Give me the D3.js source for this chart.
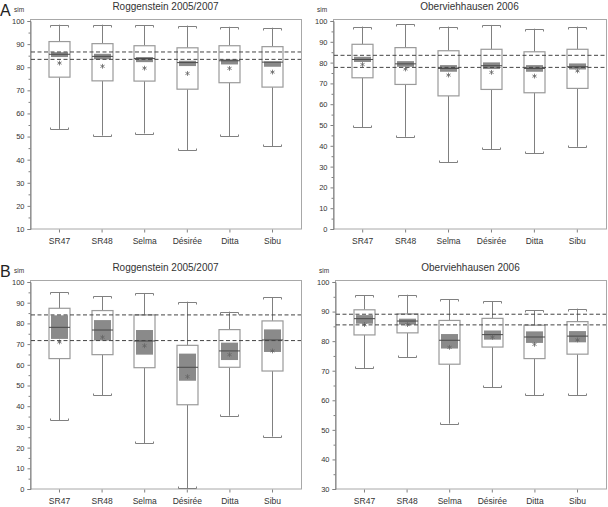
<!DOCTYPE html>
<html><head><meta charset="utf-8">
<script src="https://cdn.jsdelivr.net/npm/d3@7"></script>
<style>
body{margin:0;background:#fff;}
svg{display:block;font-family:"Liberation Sans",Arial,sans-serif;}
</style></head>
<body><svg id="c" width="608" height="507"></svg>
<script>
const categories = ["SR47","SR48","Selma","Désirée","Ditta","Sibu"];

// Panel A – Roggenstein 2005/2007
const aRogWhiskerHigh = [98.4, 98.4, 98.1, 98.0, 97.5, 97.1];
const aRogQ3          = [91.1, 90.2, 89.3, 88.4, 89.3, 88.9];
const aRogMedian      = [85.6, 84.7, 83.8, 82.0, 82.8, 82.2];
const aRogCiHigh      = [86.5, 85.8, 84.4, 82.8, 83.4, 82.5];
const aRogCiLow       = [84.4, 83.4, 82.2, 80.5, 81.2, 80.2];
const aRogMean        = [81.8, 80.4, 79.6, 77.3, 79.5, 77.9];
const aRogQ1          = [75.7, 74.1, 74.0, 70.5, 73.3, 71.4];
const aRogWhiskerLow  = [53.3, 50.4, 51.3, 44.0, 50.2, 45.8];
const aRogRefLines    = [86.6, 83.4];

// Panel A – Oberviehhausen 2006
const aObeWhiskerHigh = [97.3, 98.4, 97.3, 98.1, 96.3, 97.3];
const aObeQ3          = [88.8, 87.2, 85.7, 86.4, 85.2, 86.4];
const aObeMedian      = [81.5, 79.4, 77.2, 78.5, 77.2, 78.0];
const aObeCiHigh      = [82.8, 80.7, 78.8, 80.1, 78.8, 79.6];
const aObeCiLow       = [80.3, 78.0, 75.6, 76.9, 75.6, 76.7];
const aObeMean        = [79.1, 76.9, 74.0, 75.3, 73.5, 76.0];
const aObeQ1          = [72.7, 69.5, 64.0, 67.1, 65.5, 67.6];
const aObeWhiskerLow  = [49.0, 44.3, 32.1, 38.4, 36.3, 39.5];
const aObeRefLines    = [83.5, 77.7];

// Panel B – Roggenstein 2005/2007
const bRogWhiskerHigh = [95.0, 93.1, 94.7, 90.5, 85.7, 92.6];
const bRogQ3          = [87.3, 86.2, 84.1, 69.4, 77.0, 81.2];
const bRogMedian      = [78.1, 76.8, 71.5, 58.8, 66.7, 72.0];
const bRogCiHigh      = [83.9, 81.6, 76.8, 65.4, 70.7, 77.1];
const bRogCiLow       = [72.5, 71.7, 64.9, 52.3, 62.3, 66.2];
const bRogMean        = [71.0, 73.3, 69.2, 54.3, 64.9, 66.7];
const bRogQ1          = [63.0, 64.9, 58.6, 40.7, 58.8, 57.0];
const bRogWhiskerLow  = [33.3, 45.2, 22.2, 0.3, 35.4, 25.3];
const bRogRefLines    = [84.1, 71.7];

// Panel B – Oberviehhausen 2006
const bObeWhiskerHigh = [95.5, 95.7, 94.2, 93.5, 90.5, 91.0];
const bObeQ3          = [90.6, 89.2, 87.0, 87.7, 85.4, 86.6];
const bObeMedian      = [87.6, 86.8, 80.3, 82.2, 81.4, 81.7];
const bObeCiHigh      = [88.8, 87.6, 82.4, 83.6, 83.3, 83.4];
const bObeCiLow       = [85.9, 85.6, 77.5, 80.5, 79.4, 79.6];
const bObeMean        = [85.6, 85.6, 77.9, 81.3, 78.9, 80.4];
const bObeQ1          = [82.1, 82.8, 72.2, 78.0, 74.1, 75.6];
const bObeWhiskerLow  = [70.8, 74.5, 52.1, 64.4, 61.7, 61.7];
const bObeRefLines    = [89.1, 85.5];

const titles = ["Roggenstein 2005/2007", "Oberviehhausen 2006"];
const panelLetters = ["A", "B"];
const yLabel = "sim";
const yDomains = [[10,100],[0,100],[0,100],[30,100]];

function rows(wh,q3,md,ch,cl,mn,q1,wl){
  return categories.map((c,i)=>({cat:c, wh:wh[i], q3:q3[i], md:md[i], ch:ch[i], cl:cl[i], mn:mn[i], q1:q1[i], wl:wl[i]}));
}

const panels = [
  {data: rows(aRogWhiskerHigh,aRogQ3,aRogMedian,aRogCiHigh,aRogCiLow,aRogMean,aRogQ1,aRogWhiskerLow), refs:aRogRefLines, title:titles[0], dom:yDomains[0],
   x0:30, x1:301, yTop:21, yBot:229, letter:panelLetters[0]},
  {data: rows(aObeWhiskerHigh,aObeQ3,aObeMedian,aObeCiHigh,aObeCiLow,aObeMean,aObeQ1,aObeWhiskerLow), refs:aObeRefLines, title:titles[1], dom:yDomains[1],
   x0:333, x1:606, yTop:21, yBot:229},
  {data: rows(bRogWhiskerHigh,bRogQ3,bRogMedian,bRogCiHigh,bRogCiLow,bRogMean,bRogQ1,bRogWhiskerLow), refs:bRogRefLines, title:titles[0], dom:yDomains[2],
   x0:30, x1:301, yTop:282, yBot:489, letter:panelLetters[1]},
  {data: rows(bObeWhiskerHigh,bObeQ3,bObeMedian,bObeCiHigh,bObeCiLow,bObeMean,bObeQ1,bObeWhiskerLow), refs:bObeRefLines, title:titles[1], dom:yDomains[3],
   x0:335, x1:606, yTop:282, yBot:489}
];

const svg = d3.select("#c");
const textCol = "#333";
const frameCol = "#a8a8a8";
const boxCol = "#9a9a9a";
const whiskCol = "#808080";
const ciCol = "#8a8a8a";
const medCol = "#4a4a4a";

panels.forEach(p=>{
  const g = svg.append("g");
  const x = d3.scalePoint().domain(categories).range([p.x0, p.x1]).padding(0.68);
  const y = d3.scaleLinear().domain(p.dom).range([p.yBot, p.yTop]);

  g.append("rect").attr("x", p.x0+0.5).attr("y", p.yTop-1.5)
    .attr("width", p.x1-p.x0).attr("height", p.yBot-p.yTop+1.5)
    .attr("fill","none").attr("stroke",frameCol).attr("stroke-width",1);

  const yAxis = d3.axisLeft(y).tickValues(d3.range(p.dom[0], p.dom[1]+0.1, 10)).tickSize(3).tickPadding(3);
  const ya = g.append("g").attr("transform",`translate(${p.x0+0.5},0)`).call(yAxis);
  ya.select(".domain").attr("stroke",whiskCol);
  ya.selectAll(".tick line").attr("stroke",whiskCol);
  ya.selectAll("text").attr("fill",textCol).style("font-size","7.5px").style("font-family",'"Liberation Sans",Arial,sans-serif');
  g.append("g").selectAll("line").data(d3.range(p.dom[0]+5, p.dom[1], 10)).join("line")
    .attr("x1",p.x0+0.5).attr("x2",p.x0-1.5).attr("y1",d=>y(d)+0.5).attr("y2",d=>y(d)+0.5).attr("stroke",whiskCol);

  const xAxis = d3.axisBottom(x).tickSize(3).tickPadding(5);
  const xa = g.append("g").attr("transform",`translate(0,${p.yBot+0.5})`).call(xAxis);
  xa.select(".domain").remove();
  xa.selectAll(".tick line").attr("stroke",whiskCol);
  xa.selectAll("text").attr("fill",textCol).style("font-size","8.5px").style("font-family",'"Liberation Sans",Arial,sans-serif');

  g.append("text").attr("x",(p.x0+p.x1)/2).attr("y",p.yTop-11).attr("text-anchor","middle")
    .attr("fill",textCol).style("font-size","10px").text(p.title);
  g.append("text").attr("x",p.x0-16).attr("y",p.yTop-9).attr("fill",textCol).style("font-size","6.5px").text(yLabel);
  if(p.letter){
    g.append("text").attr("x",0).attr("y",p.yTop-5).attr("fill","#222").style("font-size","16px").text(p.letter);
  }

  const bw = 21, cw = 17, capw = 18;
  const box = g.append("g").selectAll("g").data(p.data).join("g");
  const cx = d=>Math.round(x(d.cat))+0.5;
  box.append("line").attr("x1",cx).attr("x2",cx).attr("y1",d=>y(d.wh)).attr("y2",d=>y(d.q3)).attr("stroke",whiskCol);
  box.append("line").attr("x1",cx).attr("x2",cx).attr("y1",d=>y(d.q1)).attr("y2",d=>y(d.wl)).attr("stroke",whiskCol);
  box.append("path").attr("fill","none").attr("stroke",whiskCol)
    .attr("d",d=>{const yy=Math.round(y(d.wh))+0.5, a=cx(d)-capw/2, b=cx(d)+capw/2; return `M${a},${yy+2}V${yy}H${b}V${yy+2}`;});
  box.append("path").attr("fill","none").attr("stroke",whiskCol)
    .attr("d",d=>{const yy=Math.round(y(d.wl))+0.5, a=cx(d)-capw/2, b=cx(d)+capw/2; return `M${a},${yy-2}V${yy}H${b}V${yy-2}`;});
  box.append("rect").attr("x",d=>cx(d)-bw/2).attr("y",d=>y(d.q3)).attr("width",bw)
    .attr("height",d=>y(d.q1)-y(d.q3)).attr("fill","#fff").attr("stroke",boxCol).attr("stroke-width",1.2);
  box.append("rect").attr("x",d=>cx(d)-cw/2).attr("y",d=>y(d.ch)).attr("width",cw)
    .attr("height",d=>y(d.cl)-y(d.ch)).attr("fill",ciCol);
  box.append("line").attr("x1",d=>cx(d)-bw/2).attr("x2",d=>cx(d)+bw/2)
    .attr("y1",d=>y(d.md)).attr("y2",d=>y(d.md)).attr("stroke",medCol).attr("stroke-width",1);
  box.append("path").attr("transform",d=>`translate(${cx(d)},${y(d.mn)})`)
    .attr("d",d3.symbol(d3.symbolAsterisk, 16)).attr("fill","none").attr("stroke","#666").attr("stroke-width",0.8);

  g.append("g").selectAll("line").data(p.refs).join("line")
    .attr("x1",p.x0+1).attr("x2",p.x1).attr("y1",d=>y(d)).attr("y2",d=>y(d))
    .attr("stroke","#444").attr("stroke-width",1).attr("stroke-dasharray","4,2.5");
});
</script></body></html>
